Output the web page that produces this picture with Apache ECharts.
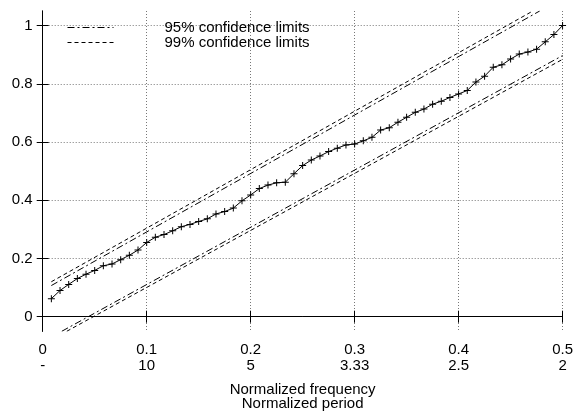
<!DOCTYPE html>
<html>
<head>
<meta charset="utf-8">
<script src="https://cdn.jsdelivr.net/npm/echarts@6/dist/echarts.min.js"></script>
<style>
  html, body { margin: 0; padding: 0; background: #fff; }
  #chart { width: 576px; height: 416px; }
</style>
</head>
<body>
<div id="chart"></div>
<script>
// cumulative periodogram, one value per Fourier frequency k/120
const nSeries = 120;
const cumPeriodogram = [
  0.062, 0.090, 0.111, 0.131, 0.146, 0.159, 0.175, 0.181, 0.196, 0.211,
  0.229, 0.255, 0.273, 0.282, 0.295, 0.309, 0.317, 0.327, 0.336, 0.353,
  0.361, 0.373, 0.398, 0.418, 0.440, 0.452, 0.460, 0.462, 0.491, 0.519,
  0.538, 0.552, 0.567, 0.579, 0.590, 0.593, 0.604, 0.616, 0.641, 0.649,
  0.668, 0.685, 0.702, 0.713, 0.730, 0.740, 0.753, 0.765, 0.777, 0.806,
  0.826, 0.857, 0.865, 0.885, 0.902, 0.909, 0.919, 0.944, 0.969, 1.000
];

// confidence limit lines (end points)
const upper95 = [[0.0083, 0.107], [0.478, 1.05]];
const lower95 = [[0.0184, -0.05], [0.5, 0.897]];
const upper99 = [[0.0083, 0.120], [0.4714, 1.05]];
const lower99 = [[0.0232, -0.05], [0.5, 0.884]];

const yTicks = [0, 0.2, 0.4, 0.6, 0.8, 1];
const xTickFreq = ['0', '0.1', '0.2', '0.3', '0.4', '0.5'];
const xTickPeriod = ['-', '10', '5', '3.33', '2.5', '2'];

const FONT = '"Liberation Sans", Arial, sans-serif';
const gridLine = { show: true, lineStyle: { color: '#777', type: [1, 2], width: 1 } };
const frame = { show: true, lineStyle: { color: '#000', width: 1 } };
const tick = { show: true, inside: true, length: 6, lineStyle: { color: '#000', width: 1 } };

const points = cumPeriodogram.map((v, i) => [(i + 1) / nSeries, v]);

const dashDot = [7, 3, 2, 3];
const dashed = [4, 3];

const chart = echarts.init(document.getElementById('chart'));
chart.setOption({
  animation: false,
  textStyle: { fontFamily: FONT },
  grid: { left: 42.7, right: 13.3, top: 11, bottom: 81, containLabel: false },
  legend: {
    orient: 'vertical',
    left: 62,
    top: 15,
    itemWidth: 46,
    itemHeight: 14,
    itemGap: 0,
    itemStyle: { opacity: 0 },
    lineStyle: { width: 1 },
    data: ['95% confidence limits', '99% confidence limits'],
    textStyle: { fontSize: 15, color: '#000', fontFamily: FONT, padding: [0, 0, 0, 46] }
  },
  xAxis: [{
    type: 'value', min: 0, max: 0.5, interval: 0.1, position: 'bottom',
    axisLine: frame, axisTick: tick, splitLine: gridLine,
    axisLabel: {
      color: '#000', fontSize: 15, fontFamily: FONT, margin: 11, lineHeight: 16,
      formatter: (v) => {
        const i = Math.round(v * 10);
        return xTickFreq[i] + '\n' + xTickPeriod[i];
      }
    },
    name: 'Normalized frequency\nNormalized period',
    nameLocation: 'middle', nameGap: 52,
    nameTextStyle: { color: '#000', fontSize: 15, fontFamily: FONT, lineHeight: 13.5, verticalAlign: 'top' }
  }, {
    type: 'value', min: 0, max: 0.5, interval: 0.1, position: 'top',
    axisLine: frame, axisTick: tick, splitLine: { show: false }, axisLabel: { show: false }
  }],
  yAxis: [{
    type: 'value', min: -0.05, max: 1.05, position: 'left',
    axisLine: frame,
    axisTick: Object.assign({}, tick, { customValues: yTicks }),
    splitLine: gridLine,
    axisLabel: { color: '#000', fontSize: 15, fontFamily: FONT, margin: 10, customValues: yTicks,
      formatter: (v) => String(Math.round(v * 10) / 10) }
  }, {
    type: 'value', min: -0.05, max: 1.05, position: 'right',
    axisLine: frame,
    axisTick: Object.assign({}, tick, { customValues: yTicks }),
    splitLine: { show: false }, axisLabel: { show: false }
  }],
  series: [
    {
      name: '95% confidence limits', type: 'line', data: upper95, symbol: 'none',
      lineStyle: { color: '#000', width: 1, type: dashDot }, itemStyle: { color: '#000' }
    },
    {
      name: '95% confidence limits', type: 'line', data: lower95, symbol: 'none',
      lineStyle: { color: '#000', width: 1, type: dashDot }, itemStyle: { color: '#000' }
    },
    {
      name: '99% confidence limits', type: 'line', data: upper99, symbol: 'none',
      lineStyle: { color: '#000', width: 1, type: dashed }, itemStyle: { color: '#000' }
    },
    {
      name: '99% confidence limits', type: 'line', data: lower99, symbol: 'none',
      lineStyle: { color: '#000', width: 1, type: dashed }, itemStyle: { color: '#000' }
    },
    {
      name: 'periodogram', type: 'line', data: points, z: 5,
      symbol: 'path://M3,0h1v7h-1z M0,3h7v1h-7z', symbolSize: 7,
      lineStyle: { color: '#000', width: 1 }, itemStyle: { color: '#000' }
    }
  ]
});
</script>
</body>
</html>
